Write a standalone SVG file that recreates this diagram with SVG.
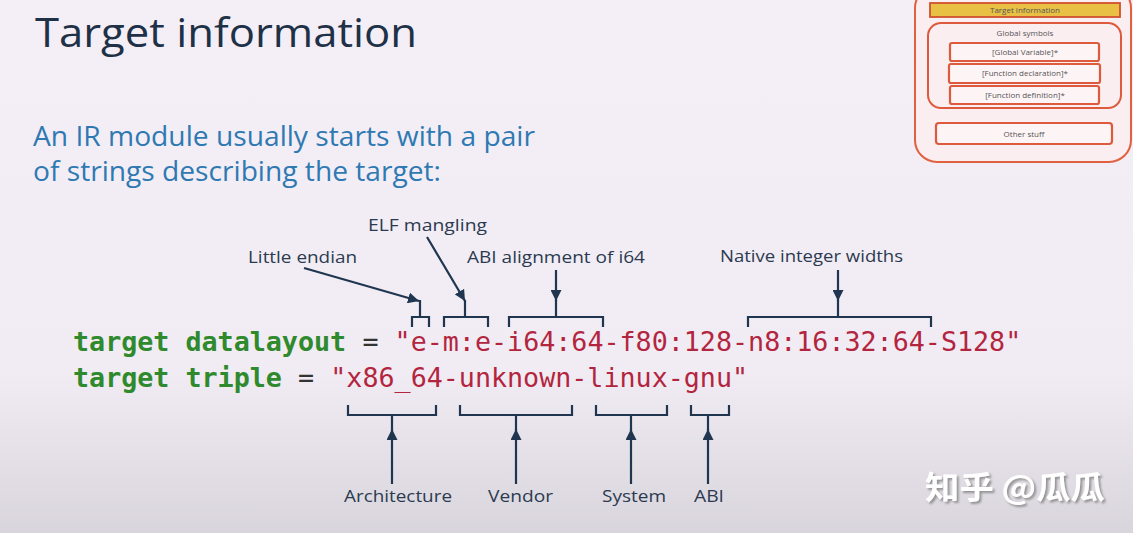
<svg xmlns="http://www.w3.org/2000/svg" width="1133" height="533" viewBox="0 0 1133 533">
<defs>
<linearGradient id="bg" x1="0" y1="0" x2="0" y2="1">
<stop offset="0" stop-color="#f4eff6"/>
<stop offset="0.7" stop-color="#f1ecf3"/>
<stop offset="1" stop-color="#d9d5dc"/>
</linearGradient>
<marker id="ah" viewBox="0 0 10 10" refX="10" refY="5" markerWidth="11" markerHeight="11" markerUnits="userSpaceOnUse" orient="auto">
<path d="M0,0 L10,5 L0,10 z" fill="#1f3550"/>
</marker>
<filter id="sh" x="-10%" y="-30%" width="130%" height="160%">
<feDropShadow dx="2" dy="2" stdDeviation="1" flood-color="#8a8a8a" flood-opacity="0.9"/>
</filter>
</defs>
<style>
.title{font-family:"Open Sans","Noto Sans",sans-serif;font-size:40px;fill:#1e3146}
.sub{font-family:"Open Sans","Noto Sans",sans-serif;font-size:27px;fill:#2f79b3}
.lbl{font-family:"Open Sans","Noto Sans",sans-serif;font-size:17px;fill:#2b3a50}
.code{font-family:"DejaVu Sans Mono","Liberation Mono",monospace;font-size:26.7px}
.kw{fill:#2e8a2c;font-weight:bold}
.eq{fill:#333333}
.str{fill:#b3253f}
.br{fill:none;stroke:#1f3550;stroke-width:2.2}
.ar{fill:none;stroke:#1f3550;stroke-width:2.2;marker-end:url(#ah)}
.tb{fill:#fdf4f5;stroke:#de5a3c;stroke-width:2.2}
.tt{font-family:"Open Sans","Noto Sans",sans-serif;font-size:8px;fill:#555555;text-anchor:middle}
.wm{font-family:"Noto Sans CJK SC",sans-serif;font-size:32px;font-weight:bold;fill:#ffffff}
</style>
<rect width="1133" height="533" fill="url(#bg)"/>

<g id="title">
<text class="title" x="35" y="47" textLength="382" lengthAdjust="spacingAndGlyphs">Target information</text>
</g>
<g id="subtitle">
<text class="sub" x="33" y="146" textLength="502" lengthAdjust="spacingAndGlyphs">An IR module usually starts with a pair</text>
<text class="sub" x="33" y="181" textLength="408" lengthAdjust="spacingAndGlyphs">of strings describing the target:</text>
</g>

<g id="thumbnail">
<rect x="915" y="-14" width="216" height="176" rx="22" fill="#fbeef1" stroke="#e0603f" stroke-width="2"/>
<rect x="930" y="3" width="190" height="14" fill="#e8c044" stroke="#d0502f" stroke-width="1.8"/>
<text class="tt" x="1025" y="13">Target information</text>
<rect x="928" y="23" width="193" height="85" rx="13" fill="#fbeef1" stroke="#de5a3c" stroke-width="2"/>
<text class="tt" x="1025" y="36">Global symbols</text>
<rect class="tb" x="950" y="43" width="149" height="18" rx="2"/>
<text class="tt" x="1025" y="55">[Global Variable]*</text>
<rect class="tb" x="949" y="64" width="151" height="19" rx="2"/>
<text class="tt" x="1025" y="76">[Function declaration]*</text>
<rect class="tb" x="950" y="86" width="149" height="18" rx="2"/>
<text class="tt" x="1025" y="98">[Function definition]*</text>
<rect class="tb" x="936" y="123" width="176" height="21" rx="3"/>
<text class="tt" x="1024" y="137">Other stuff</text>
</g>

<g id="code">
<text class="code kw" x="73" y="351">target datalayout</text>
<text class="code eq" x="362.4" y="351">=</text>
<text class="code str" x="394.6" y="351">"e-m:e-i64:64-f80:128-n8:16:32:64-S128"</text>
<text class="code kw" x="73" y="387">target triple</text>
<text class="code eq" x="298.1" y="387">=</text>
<text class="code str" x="330.3" y="387">"x86_64-unknown-linux-gnu"</text>
</g>

<g id="label-little-endian"><text class="lbl" x="248" y="263" textLength="109" lengthAdjust="spacingAndGlyphs">Little endian</text></g>
<g id="label-elf"><text class="lbl" x="368" y="231" textLength="119" lengthAdjust="spacingAndGlyphs">ELF mangling</text></g>
<g id="label-abi-align"><text class="lbl" x="467" y="263" textLength="178" lengthAdjust="spacingAndGlyphs">ABI alignment of i64</text></g>
<g id="label-native"><text class="lbl" x="720" y="262" textLength="183" lengthAdjust="spacingAndGlyphs">Native integer widths</text></g>
<g id="label-arch"><text class="lbl" x="344" y="502" textLength="108" lengthAdjust="spacingAndGlyphs">Architecture</text></g>
<g id="label-vendor"><text class="lbl" x="488" y="502" textLength="65" lengthAdjust="spacingAndGlyphs">Vendor</text></g>
<g id="label-system"><text class="lbl" x="602" y="502" textLength="64" lengthAdjust="spacingAndGlyphs">System</text></g>
<g id="label-abi"><text class="lbl" x="694" y="502" textLength="30" lengthAdjust="spacingAndGlyphs">ABI</text></g>

<g id="connectors">
<path class="br" d="M412,327 V317 H429 V327 M420,317 V300"/>
<path class="br" d="M444,327 V317 H488 V327 M465,317 V300"/>
<path class="br" d="M509,327 V317 H603 V327 M556,317 V300"/>
<path class="br" d="M748,327 V317 H931 V327 M838,317 V300"/>
<path class="ar" d="M304,268 L419,301"/>
<path class="ar" d="M427,237 L465,301"/>
<path class="ar" d="M556,270 V301"/>
<path class="ar" d="M838,270 V301"/>
<path class="br" d="M348,405 V415 H436 V405 M392,415 V430"/>
<path class="br" d="M460,405 V415 H572 V405 M516,415 V430"/>
<path class="br" d="M596,405 V415 H667 V405 M631,415 V430"/>
<path class="br" d="M691,405 V415 H729 V405 M708,415 V430"/>
<path class="ar" d="M392,484 V429"/>
<path class="ar" d="M516,484 V429"/>
<path class="ar" d="M631,484 V429"/>
<path class="ar" d="M708,484 V429"/>
</g>

<g id="watermark">
<text class="wm" x="925" y="499" textLength="180" lengthAdjust="spacingAndGlyphs" filter="url(#sh)">知乎 @瓜瓜</text>
</g>
</svg>
